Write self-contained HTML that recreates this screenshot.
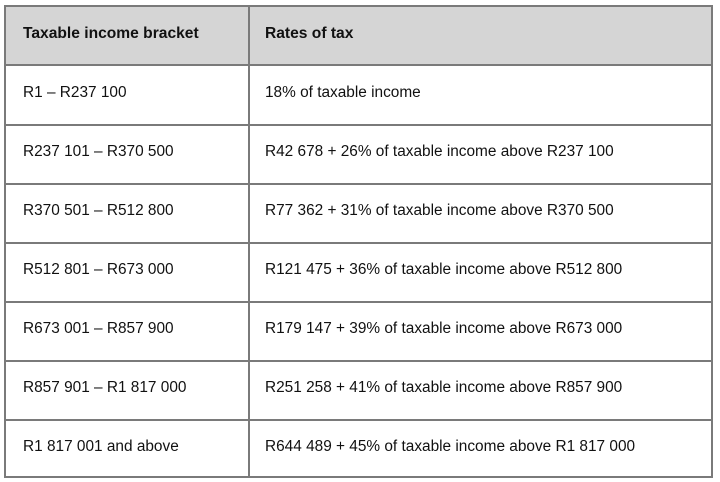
<!DOCTYPE html>
<html><head><style>
body{margin:0;background:#fff;width:720px;height:482px;overflow:hidden;font-family:"Liberation Sans",Arial,sans-serif;color:#111}
.t{position:absolute;left:4px;top:5px;width:709px;height:473px;border:2px solid #7a7a7a;box-sizing:border-box}
.r{position:absolute;left:0;width:100%;border-top:2px solid #7a7a7a;box-sizing:border-box}
.v{position:absolute;left:242px;top:0;bottom:0;border-left:2px solid #7a7a7a}
.h{position:absolute;left:0;top:0;width:100%;height:58px;background:#d5d5d5}
.c{position:absolute;font-size:15.4px;line-height:17px}
</style></head><body>
<div class="t">
<div class="h"></div>
<div class="v"></div>
<div class="r" style="top:57px"></div>
<div class="r" style="top:117px"></div>
<div class="r" style="top:176px"></div>
<div class="r" style="top:235px"></div>
<div class="r" style="top:294px"></div>
<div class="r" style="top:353px"></div>
<div class="r" style="top:412px"></div>
</div>
<div class="c" style="left:23px;top:25px;font-weight:bold;font-size:15.6px">Taxable income bracket</div>
<div class="c" style="left:265px;top:25px;font-weight:bold;font-size:15.6px">Rates of tax</div>
<div class="c" style="left:23px;top:84px">R1 – R237 100</div>
<div class="c" style="left:265px;top:84px">18% of taxable income</div>
<div class="c" style="left:23px;top:143px">R237 101 – R370 500</div>
<div class="c" style="left:265px;top:143px">R42 678 + 26% of taxable income above R237 100</div>
<div class="c" style="left:23px;top:202px">R370 501 – R512 800</div>
<div class="c" style="left:265px;top:202px">R77 362 + 31% of taxable income above R370 500</div>
<div class="c" style="left:23px;top:261px">R512 801 – R673 000</div>
<div class="c" style="left:265px;top:261px">R121 475 + 36% of taxable income above R512 800</div>
<div class="c" style="left:23px;top:320px">R673 001 – R857 900</div>
<div class="c" style="left:265px;top:320px">R179 147 + 39% of taxable income above R673 000</div>
<div class="c" style="left:23px;top:379px">R857 901 – R1 817 000</div>
<div class="c" style="left:265px;top:379px">R251 258 + 41% of taxable income above R857 900</div>
<div class="c" style="left:23px;top:438px">R1 817 001 and above</div>
<div class="c" style="left:265px;top:438px">R644 489 + 45% of taxable income above R1 817 000</div>
</body></html>
